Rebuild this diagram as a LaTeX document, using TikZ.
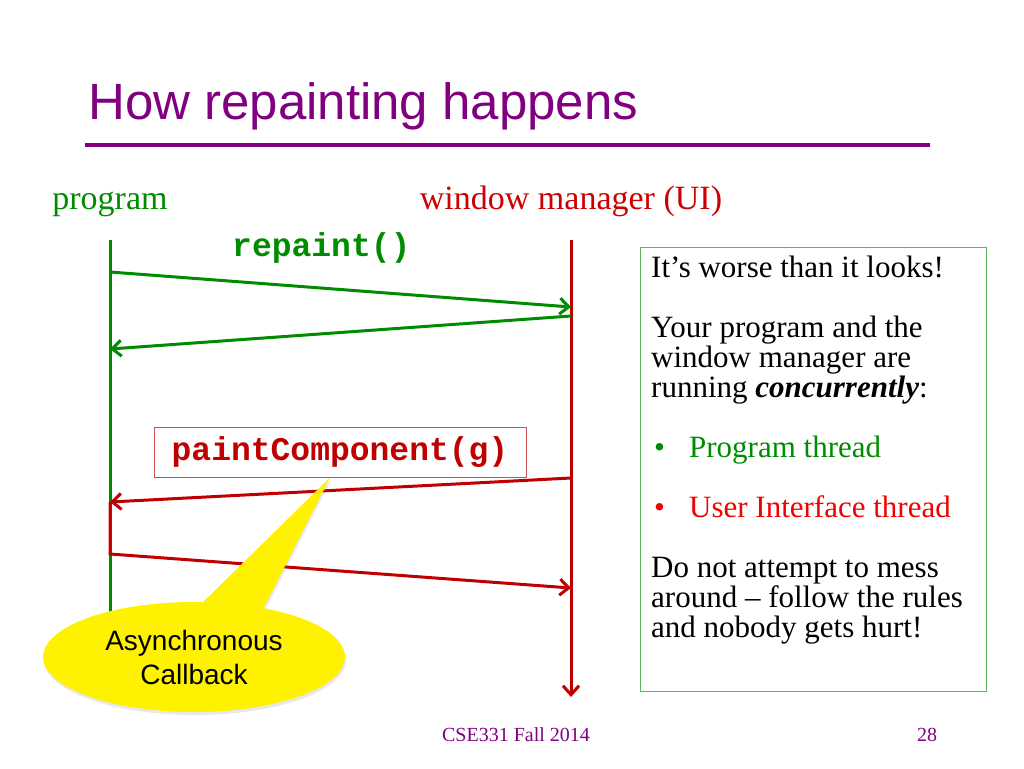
\documentclass[tikz,border=0pt]{standalone}
\usepackage{fontspec}
\setmainfont{Liberation Serif}
\setsansfont{Liberation Sans}
\setmonofont{Liberation Mono}
\usetikzlibrary{arrows.meta,positioning,shapes.callouts,shadows}

\definecolor{slidepurple}{RGB}{128,0,128}
\definecolor{proggreen}{RGB}{0,140,0}
\definecolor{uired}{RGB}{204,0,0}
\definecolor{linered}{RGB}{192,0,0}
\definecolor{threadred}{RGB}{240,0,0}
\definecolor{boxred}{RGB}{205,80,80}
\definecolor{boxgreen}{RGB}{90,180,90}

\begin{document}
\begin{tikzpicture}[
  x=1pt, y=-1pt,
  lbl/.style={inner sep=0pt, anchor=base west},
  head/.style={inner sep=0pt, anchor=base, font=\fontsize{34}{34}\selectfont},
  call/.style={inner sep=0pt, font=\fontsize{33}{33}\ttfamily\bfseries},
  life/.style={line width=3pt},
  msg/.style={line width=3pt, -{Straight Barb[length=9pt,width=16pt]}},
  callbox/.style={call, draw=boxred, line width=1pt, text=linered,
    minimum width=372pt, minimum height=50pt},
  notebox/.style={draw=boxgreen, line width=1.2pt, inner sep=0pt,
    minimum width=346pt, minimum height=444pt, anchor=north west},
  notetext/.style={inner sep=0pt, align=left, font=\fontsize{31}{30}\selectfont},
  bubble/.style={ellipse callout, fill=yellow, inner sep=0pt, align=center,
    minimum width=302pt, minimum height=110pt, callout pointer arc=24,
    font=\fontsize{28}{34}\sffamily,
    drop shadow={opacity=0.18, shadow xshift=1pt, shadow yshift=-3pt}},
  foot/.style={inner sep=0pt, anchor=base, text=slidepurple,
    font=\fontsize{20}{20}\selectfont}
]
\useasboundingbox (0,0) rectangle (1024,768);

% ── Title ────────────────────────────────────────────────────────────────
\node[lbl, text=slidepurple, font=\fontsize{51}{51}\sffamily] (title)
  at (88,119) {How repainting happens};
\draw[slidepurple, line width=4pt] (85,145) -- (930,145);

% ── The two lifelines ────────────────────────────────────────────────────
\node[head, text=proggreen] (prog) at (110,209) {program};
\node[head, text=uired] (wm) at (571,209) {window manager (UI)};
\coordinate (ptop) at (prog |- 0,240);
\coordinate (pbot) at (prog |- 0,680);
\coordinate (wtop) at (wm |- 0,240);
\coordinate (wbot) at (wm |- 0,697);
\draw[life, proggreen] (ptop) -- (pbot);
\draw[msg, linered] (wtop) -- (wbot);

% ── repaint() request and its quick return ───────────────────────────────
\node[lbl, call, text=proggreen] (rp) at (232,256) {repaint()};
\coordinate (r1) at (110,272);
\coordinate (r2) at (571,307);
\coordinate (r3) at (571,316);
\coordinate (r4) at (110,349);
\draw[msg, proggreen] (r1) -- (r2);
\draw[msg, proggreen] (r3) -- (r4);

% ── Later: the UI thread calls back into the program ─────────────────────
\node[callbox] (pc) at (340,452) {paintComponent(g)};
\coordinate (c1) at (571,478);
\coordinate (c2) at (110,502);
\coordinate (c3) at (110,554);
\coordinate (c4) at (571,588);
\draw[msg, linered] (c1) -- (c2);
\draw[msg, linered] (c2) -- (c3) -- (c4);

% ── Side note ────────────────────────────────────────────────────────────
\node[notebox] (note) at (640,247) {};
\node[notetext, below right=9pt and 11pt of note.north west] (notetxt)
  {It’s worse than it looks!\\[30pt]
   Your program and the\\
   window manager are\\
   running \textbf{\textit{concurrently}}:\\[30pt]
   \textcolor{proggreen}{\makebox[38pt][l]{\hspace{3pt}•}Program thread}\\[30pt]
   \textcolor{threadred}{\makebox[38pt][l]{\hspace{3pt}•}User Interface thread}\\[30pt]
   Do not attempt to mess\\
   around – follow the rules\\
   and nobody gets hurt!};

% ── Callout ──────────────────────────────────────────────────────────────
\node[bubble, callout absolute pointer={([xshift=-10pt]pc.south)}] (cb)
  at (194,657) {Asynchronous\\Callback};

% ── Footer ───────────────────────────────────────────────────────────────
\node[foot] (course) at (516,741) {CSE331 Fall 2014};
\node[foot] (pageno) at (927,741) {28};

\end{tikzpicture}
\end{document}
